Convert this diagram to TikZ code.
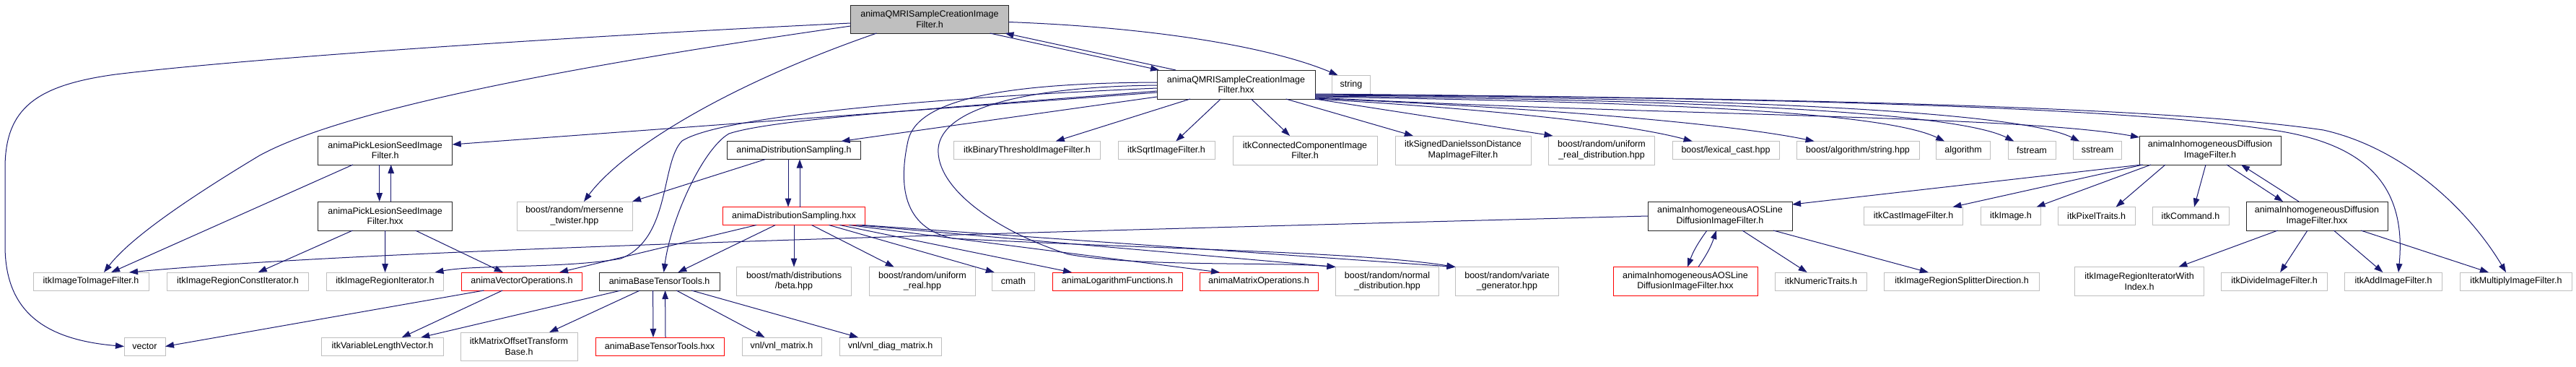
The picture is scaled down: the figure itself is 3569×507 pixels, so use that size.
\documentclass[tikz,border=0pt]{standalone}
\usepackage{fontspec}
\setmainfont{Liberation Sans}[Ligatures=NoCommon]
\usetikzlibrary{arrows.meta}
\definecolor{edgec}{HTML}{191970}
\definecolor{gborder}{HTML}{BFBFBF}
\definecolor{rootfill}{HTML}{BFBFBF}
\definecolor{rborder}{HTML}{FF0000}
\begin{document}
\begin{tikzpicture}[x=1pt,y=-1pt,
  box/.style={draw, line width=1pt, inner sep=0pt, outer sep=0pt, align=center, text=black, fill=white, font=\fontsize{12.5}{14.5}\selectfont},
  gbox/.style={box, draw=gborder},
  bbox/.style={box, draw=black!85},
  rbox/.style={box, draw=rborder},
  rootbox/.style={box, draw=black!85, fill=rootfill},
  sl/.style={minimum height=25pt},
  dl/.style={minimum height=40pt},
  arr/.style={draw=edgec, line width=1pt, -{Triangle[length=12pt,width=8.5pt]}},
]
\path[use as bounding box, fill=white] (0,0) rectangle (3569,507);

% row 0 / 1
\node[rootbox, minimum width=219pt, minimum height=39pt] (root) at (1288,26.5) {animaQMRISampleCreationImage\\Filter.h};
\node[bbox, dl, minimum width=219pt] (hxx) at (1712.5,117) {animaQMRISampleCreationImage\\Filter.hxx};
\node[gbox, minimum width=53pt, minimum height=26pt] (string) at (1872,117) {string};

% row 2
\node[bbox, dl, minimum width=186pt] (pickh) at (533.7,208) {animaPickLesionSeedImage\\Filter.h};
\node[bbox, sl, minimum width=185pt] (dsh) at (1100,208) {animaDistributionSampling.h};
\node[gbox, sl, minimum width=203pt] (binthr) at (1423,208) {itkBinaryThresholdImageFilter.h};
\node[gbox, sl, minimum width=134pt] (sqrt) at (1616,208) {itkSqrtImageFilter.h};
\node[gbox, dl, minimum width=200pt] (conn) at (1808,208) {itkConnectedComponentImage\\Filter.h};
\node[gbox, dl, minimum width=188pt] (dan) at (2027,208) {itkSignedDanielssonDistance\\MapImageFilter.h};
\node[gbox, dl, minimum width=147pt] (urd) at (2219,208) {boost/random/uniform\\\_real\_distribution.hpp};
\node[gbox, sl, minimum width=148pt] (lex) at (2391,208) {boost/lexical\_cast.hpp};
\node[gbox, sl, minimum width=170pt] (algstr) at (2574,208) {boost/algorithm/string.hpp};
\node[gbox, sl, minimum width=75pt] (algo) at (2720,208) {algorithm};
\node[gbox, sl, minimum width=66pt] (fstream) at (2815,208) {fstream};
\node[gbox, sl, minimum width=67pt] (sstream) at (2906,208) {sstream};
\node[bbox, dl, minimum width=196pt] (difh) at (3062,208) {animaInhomogeneousDiffusion\\ImageFilter.h};

% row 3
\node[bbox, dl, minimum width=186pt] (pickhxx) at (533.7,299) {animaPickLesionSeedImage\\Filter.hxx};
\node[gbox, dl, minimum width=160pt] (mers) at (796,299) {boost/random/mersenne\\\_twister.hpp};
\node[rbox, sl, minimum width=197pt] (dshxx) at (1100,299) {animaDistributionSampling.hxx};
\node[bbox, dl, minimum width=200pt] (aosh) at (2383,299) {animaInhomogeneousAOSLine\\DiffusionImageFilter.h};
\node[gbox, sl, minimum width=137pt] (cast) at (2651,299) {itkCastImageFilter.h};
\node[gbox, sl, minimum width=83pt] (img) at (2786,299) {itkImage.h};
\node[gbox, sl, minimum width=107pt] (pix) at (2904.6,299) {itkPixelTraits.h};
\node[gbox, sl, minimum width=106pt] (cmd) at (3035,299) {itkCommand.h};
\node[bbox, dl, minimum width=196pt] (difhxx) at (3210,299) {animaInhomogeneousDiffusion\\ImageFilter.hxx};

% row 4
\node[gbox, sl, minimum width=160pt] (i2i) at (126,389.5) {itkImageToImageFilter.h};
\node[gbox, sl, minimum width=196pt] (ricon) at (329.5,389.5) {itkImageRegionConstIterator.h};
\node[gbox, sl, minimum width=162pt] (rit) at (533.5,389.5) {itkImageRegionIterator.h};
\node[rbox, sl, minimum width=167pt] (vecop) at (723,389.5) {animaVectorOperations.h};
\node[bbox, sl, minimum width=167pt] (btt) at (913.6,389.5) {animaBaseTensorTools.h};
\node[gbox, dl, minimum width=159pt] (beta) at (1100,389.5) {boost/math/distributions\\/beta.hpp};
\node[gbox, dl, minimum width=147pt] (ureal) at (1278,389.5) {boost/random/uniform\\\_real.hpp};
\node[gbox, sl, minimum width=58.5pt] (cmath) at (1404,389.5) {cmath};
\node[rbox, sl, minimum width=180pt] (logf) at (1548,389.5) {animaLogarithmFunctions.h};
\node[rbox, sl, minimum width=164pt] (matop) at (1744,389.5) {animaMatrixOperations.h};
\node[gbox, dl, minimum width=143pt] (normal) at (1922,389.5) {boost/random/normal\\\_distribution.hpp};
\node[gbox, dl, minimum width=143pt] (variate) at (2088,389.5) {boost/random/variate\\\_generator.hpp};
\node[rbox, dl, minimum width=200pt] (aoshxx) at (2335,389.5) {animaInhomogeneousAOSLine\\DiffusionImageFilter.hxx};
\node[gbox, sl, minimum width=127pt] (numt) at (2523,389.5) {itkNumericTraits.h};
\node[gbox, sl, minimum width=215pt] (split) at (2718,389.5) {itkImageRegionSplitterDirection.h};
\node[gbox, dl, minimum width=179pt] (riwi) at (2964,389.5) {itkImageRegionIteratorWith\\Index.h};
\node[gbox, sl, minimum width=147pt] (div) at (3151,389.5) {itkDivideImageFilter.h};
\node[gbox, sl, minimum width=135pt] (add) at (3316,389.5) {itkAddImageFilter.h};
\node[gbox, sl, minimum width=155pt] (mul) at (3486,389.5) {itkMultiplyImageFilter.h};

% row 5
\node[gbox, sl, minimum width=57pt] (vector) at (200.5,479.5) {vector};
\node[gbox, sl, minimum width=169pt] (vlv) at (530,479.5) {itkVariableLengthVector.h};
\node[gbox, minimum height=39pt, minimum width=162pt] (mot) at (719,479.5) {itkMatrixOffsetTransform\\Base.h};
\node[rbox, sl, minimum width=178pt] (btthxx) at (914,479.5) {animaBaseTensorTools.hxx};
\node[gbox, sl, minimum width=110pt] (vnlm) at (1083,479.5) {vnl/vnl\_matrix.h};
\node[gbox, sl, minimum width=141pt] (vnld) at (1233.5,479.5) {vnl/vnl\_diag\_matrix.h};

% ---- edges from root
\draw[arr] ([xshift=-26pt]root.south east) -- ([xshift=3pt]hxx.north west);
\draw[arr] ([xshift=26pt]hxx.north west) -- ([xshift=-5pt]root.south east);
\draw[arr] ([yshift=-4pt]root.east) .. controls (1600,38) and (1760,65) .. ([xshift=8pt]string.north west);
\draw[arr] ([yshift=-5.5pt]root.west) .. controls (800,50) and (350,80) .. (160,103)
  .. controls (50,118) and (8,150) .. (7,230) -- (7,340)
  .. controls (7,430) and (60,470) .. (vector.west);
\draw[arr] ([yshift=10pt]root.south west) .. controls (800,90) and (480,150) .. (360,215)
  .. controls (260,275) and (180,330) .. ([xshift=18pt]i2i.north);
\draw[arr] ([xshift=36pt]root.south west) .. controls (1000,120) and (860,210) .. ([xshift=13pt]mers.north);

% ---- edges from hxx
\draw[arr] ([yshift=-11pt]hxx.west) -- ([yshift=8pt]pickh.east);
\draw[arr] ([yshift=3pt]hxx.south west) -- ([xshift=-27pt]dsh.north east);
\draw[arr] (hxx) -- (binthr);
\draw[arr] (hxx) -- (sqrt);
\draw[arr] (hxx) -- (conn);
\draw[arr] (hxx) -- (dan);
\draw[arr] (hxx.south east) -- ([xshift=6pt]urd.north west);
\draw[arr] (hxx.south east) .. controls (2050,150) and (2250,170) .. (lex);
\draw[arr] ([yshift=1pt]hxx.south east) .. controls (2150,150) and (2400,172) .. (algstr);
\draw[arr] ([yshift=3pt]hxx.south east) .. controls (2200,140) and (2600,150) .. (algo);
\draw[arr] ([yshift=4pt]hxx.south east) .. controls (2250,137) and (2700,150) .. (fstream);
\draw[arr] ([yshift=5pt]hxx.south east) .. controls (2300,134) and (2790,150) .. (sstream);
\draw[arr] ([yshift=2pt]hxx.south east) .. controls (2300,160) and (2800,160) .. (difh);
\draw[arr] ([yshift=6pt]hxx.south east) .. controls (2500,135) and (2950,150) .. (3149,180)
  .. controls (3270,198) and (3335,250) .. ([xshift=7pt]add.north);
\draw[arr] ([yshift=7pt]hxx.south east) .. controls (2500,136) and (3000,148) .. (3219,180)
  .. controls (3330,205) and (3420,290) .. ([xshift=-14pt]mul.north);
\draw[arr] ([yshift=-5pt]hxx.west) .. controls (1300,135) and (1000,160) .. (945,195)
  .. controls (915,225) and (930,330) .. (860,358)
  .. controls (780,372) and (660,366) .. ([xshift=-12pt]rit.north east);
\draw[arr] ([yshift=-9pt]hxx.west) .. controls (1300,150) and (1070,165) .. (1010,185)
  .. controls (975,205) and (930,300) .. ([xshift=6pt]btt.north);
\draw[arr] ([yshift=3pt]hxx.west) .. controls (1380,115) and (1270,140) .. (1258,195)
  .. controls (1245,255) and (1250,315) .. (1320,330)
  .. controls (1600,345) and (1880,348) .. (variate.north west);
\draw[arr] ([yshift=-1pt]hxx.west) .. controls (1420,120) and (1305,150) .. (1300,205)
  .. controls (1296,260) and (1380,320) .. (1480,352)
  .. controls (1580,370) and (1760,362) .. (normal.north west);

% ---- PickLesion
\draw[arr] ([xshift=-8pt]pickh.south) -- ([xshift=-8pt]pickhxx.north);
\draw[arr] ([xshift=8pt]pickhxx.north) -- ([xshift=8pt]pickh.south);
\draw[arr] (pickh) -- (i2i);
\draw[arr] (pickhxx) -- (ricon);
\draw[arr] (pickhxx) -- (rit);
\draw[arr] (pickhxx) -- (vecop);

% ---- DistributionSampling
\draw[arr] ([xshift=-8pt]dsh.south) -- ([xshift=-8pt]dshxx.north);
\draw[arr] ([xshift=8pt]dshxx.north) -- ([xshift=8pt]dsh.south);
\draw[arr] ([xshift=53pt]dsh.south west) -- (mers.north east);
\draw[arr] (dshxx) -- (vecop);
\draw[arr] (dshxx) -- (btt);
\draw[arr] (dshxx) -- (beta);
\draw[arr] (dshxx) -- (ureal);
\draw[arr] ([xshift=-50pt]dshxx.south east) -- ([xshift=3pt]cmath.north west);
\draw[arr] ([xshift=-35pt]dshxx.south east) -- ([xshift=27pt]logf.north west);
\draw[arr] ([xshift=-22pt]dshxx.south east) -- ([xshift=28pt]matop.north west);
\draw[arr] ([xshift=-12pt]dshxx.south east) -- (normal.north west);
\draw[arr] ([xshift=-4pt]dshxx.south east) -- (variate.north west);

% ---- VectorOperations / BaseTensorTools
\draw[arr] ([xshift=31pt]vecop.south west) -- (vector.east);
\draw[arr] (vecop) -- (vlv);
\draw[arr] (btt) -- (vlv);
\draw[arr] (btt) -- (mot);
\draw[arr] (btt) -- (vnlm);
\draw[arr] (btt) -- (vnld);
\draw[arr] ([xshift=-9pt]btt.south) -- ([xshift=-9pt]btthxx.north);
\draw[arr] ([xshift=8pt]btthxx.north) -- ([xshift=8pt]btt.south);

% ---- AOSLine
\draw[arr] (aosh.west) .. controls (1200,327) and (500,347) .. ([xshift=-27pt]i2i.north east);
\draw[arr] ([xshift=-18pt]aosh.south) to[bend right=8] ([xshift=3pt]aoshxx.north);
\draw[arr] ([xshift=18pt]aoshxx.north) to[bend right=8] ([xshift=-5pt]aosh.south);
\draw[arr] (aosh) -- (numt);
\draw[arr] (aosh) -- (split);

% ---- Diffusion
\draw[arr] ([xshift=3pt]difh.south west) -- ([yshift=-4pt]aosh.north east);
\draw[arr] ([xshift=5pt]difh.south west) -- ([xshift=-14pt]cast.north east);
\draw[arr] ([xshift=16pt]difh.south west) -- ([xshift=-6pt]img.north east);
\draw[arr] ([xshift=36pt]difh.south west) -- ([xshift=27pt]pix.north);
\draw[arr] ([xshift=-6pt]difh.south) -- ([xshift=5pt]cmd.north);
\draw[arr] ([xshift=23pt]difh.south) -- ([xshift=51pt]difhxx.north west);
\draw[arr] ([xshift=73pt]difhxx.north west) -- ([xshift=43pt]difh.south);
\draw[arr] (difhxx) -- (riwi);
\draw[arr] (difhxx) -- (div);
\draw[arr] (difhxx) -- (add);
\draw[arr] (difhxx) -- (mul);
\end{tikzpicture}
\end{document}
